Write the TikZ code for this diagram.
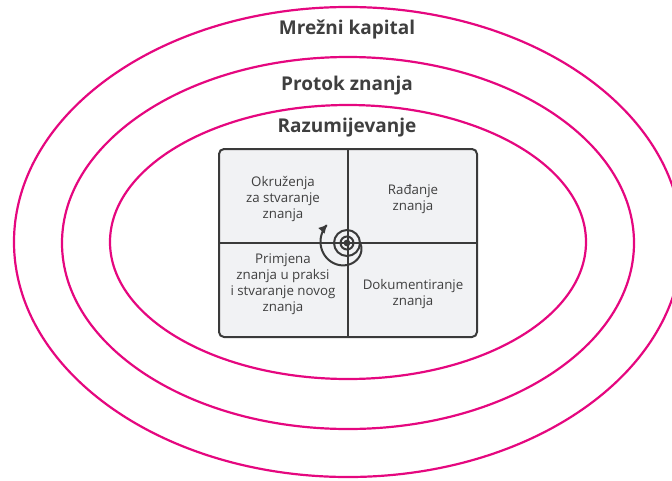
\documentclass[tikz,border=0pt]{standalone}
\usepackage{fontspec}
\setmainfont{Open Sans}
\usetikzlibrary{arrows.meta}
\definecolor{pinkc}{HTML}{E5077F}
\definecolor{txt}{HTML}{3F3F3F}
\definecolor{boxfill}{HTML}{F1F2F4}
\definecolor{boxline}{HTML}{3A3A3A}
\tikzset{
  ring/.style={draw=pinkc, line width=2.2pt},
  title/.style={font=\fontsize{19}{22}\selectfont\bfseries, text=txt},
  cell/.style={font=\fontsize{13.3}{16}\selectfont, text=txt, align=center},
  grid/.style={draw=boxline, line width=2pt}
}
\begin{document}
\begin{tikzpicture}[x=1pt,y=-1pt]
\useasboundingbox (0,0) rectangle (672,480);
\clip (0,0) rectangle (672,480);
% rings
\draw[ring] (348,242) ellipse [x radius=334, y radius=235];
\draw[ring] (348,243) ellipse [x radius=286, y radius=186];
\draw[ring] (348,242) ellipse [x radius=238, y radius=137];
% titles
\node[title] (t1) at (347,30) {Mrežni kapital};
\node[title] (t2) at (347,86) {Protok znanja};
\node[title] (t3) at (347,128) {Razumijevanje};
% box
\node[draw=boxline, fill=boxfill, line width=2pt, rounded corners=5pt,
      minimum width=258pt, minimum height=188pt, inner sep=0pt] (box) at (348,243) {};
\coordinate (c) at (348,243);
\draw[grid] (box.north -| c) -- (box.south -| c);
\draw[grid] (box.west |- c) -- (box.east |- c);
% labels
\node[cell] (q1) at (283,199) {Okruženja\\za stvaranje\\znanja};
\node[cell] (q2) at (413,199) {Rađanje\\znanja};
\node[cell] (q3) at (283,284) {Primjena\\znanja u praksi\\i stvaranje novog\\znanja};
\node[cell] (q4) at (413,294) {Dokumentiranje\\znanja};
% spiral
\begin{scope}[shift={(347,243)}, yscale=-1]
  \fill[boxline] (0,0) circle (3.4);
  \draw[boxline, line width=2pt] (0,0) circle (6.5);
  \draw[boxline, line width=2pt] (0,0) circle (13);
  \draw[boxline, line width=2pt, -{Latex[length=9pt,width=9pt]}]
    plot[domain=0:224, samples=80, smooth, variable=\p]
    ({-\p}:{13+14*(1-(1-\p/224)^2)});
\end{scope}
\end{tikzpicture}
\end{document}
